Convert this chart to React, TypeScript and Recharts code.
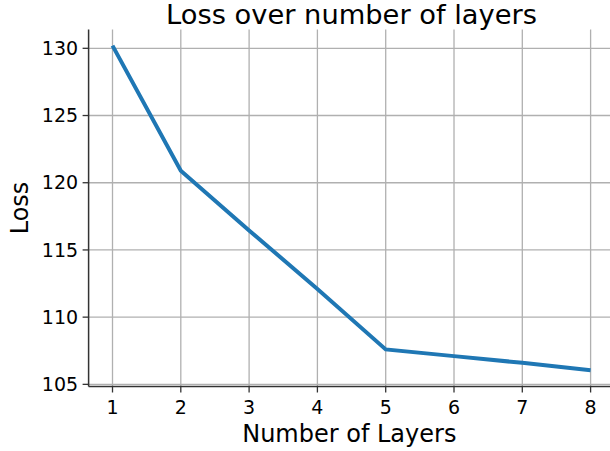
import { CartesianGrid, Label, Line, LineChart, XAxis, YAxis } from 'recharts';

const layers = [1, 2, 3, 4, 5, 6, 7, 8];
const loss = [130.2, 120.9, 116.45, 112.1, 107.6, 107.1, 106.6, 106.05];
const xTicks = [1, 2, 3, 4, 5, 6, 7, 8];
const yTicks = [105, 110, 115, 120, 125, 130];

const data = layers.map((l, i) => ({ layers: l, loss: loss[i] }));

const font = '"DejaVu Sans", sans-serif';
const spine = '#333';

export default function App() {
  return (
    <div style={{ position: 'absolute', left: 0, top: 0, width: 610, height: 451, background: '#fff', fontFamily: font }}>
      <div
        style={{
          position: 'absolute',
          top: 0,
          left: 88,
          width: 527,
          textAlign: 'center',
          fontSize: 27.3,
          lineHeight: '30px',
          color: '#000',
          whiteSpace: 'nowrap',
        }}
      >
        Loss over number of layers
      </div>
      <LineChart width={610} height={451} data={data} margin={{ top: 29.5, right: 0, left: 0, bottom: 0 }}>
        {/* syncWithTicks: grid only at tick values, no extra lines on the plot edges */}
        <CartesianGrid stroke="#b0b0b0" strokeWidth={1.3} syncWithTicks />
        <XAxis
          dataKey="layers"
          type="number"
          domain={[0.65, 8.284]}
          ticks={xTicks}
          height={64.5}
          allowDataOverflow
          axisLine={{ stroke: spine, strokeWidth: 1.5 }}
          tickLine={{ stroke: spine, strokeWidth: 1.3 }}
          tickSize={6}
          tickMargin={8.3}
          tick={{ fill: '#000', fontSize: 19, fontFamily: font }}
        >
          <Label value="Number of Layers" position="insideBottom" offset={9.3} fill="#000" fontSize={24} fontFamily={font} />
        </XAxis>
        <YAxis
          type="number"
          domain={[104.84, 131.4]}
          ticks={yTicks}
          width={88.6}
          allowDataOverflow
          axisLine={{ stroke: spine, strokeWidth: 1.5 }}
          tickLine={{ stroke: spine, strokeWidth: 1.3 }}
          tickSize={6}
          tickMargin={4.5}
          tick={{ fill: '#000', fontSize: 19, fontFamily: font }}
        >
          <Label value="Loss" angle={-90} position="insideLeft" offset={19} fill="#000" fontSize={24} fontFamily={font} style={{ textAnchor: 'middle' }} />
        </YAxis>
        <Line
          dataKey="loss"
          type="linear"
          stroke="#1f77b4"
          strokeWidth={4}
          dot={false}
          activeDot={false}
          isAnimationActive={false}
        />
      </LineChart>
    </div>
  );
}
